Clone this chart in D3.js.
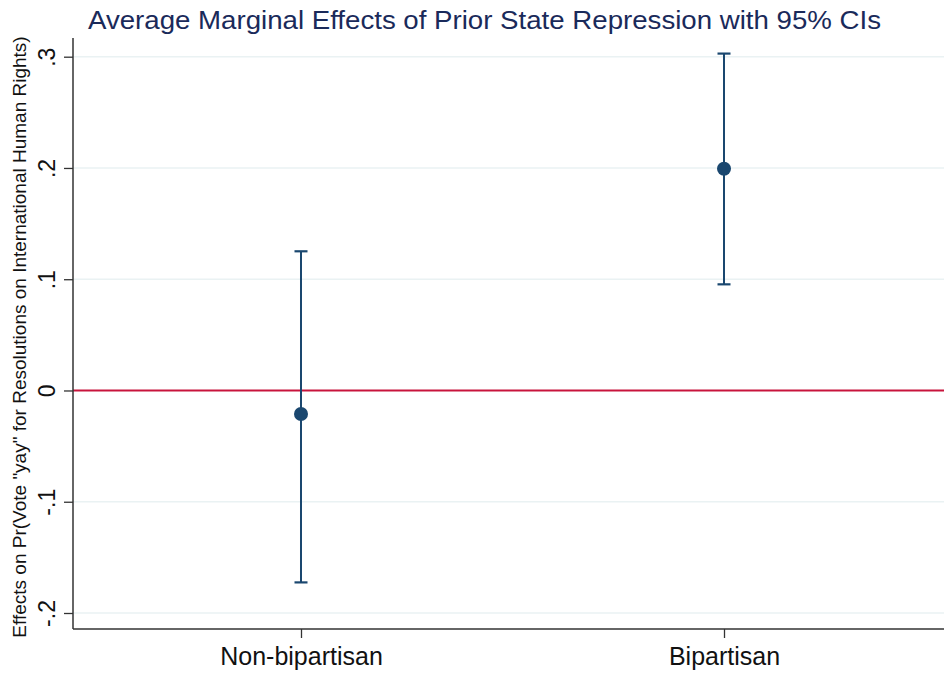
<!DOCTYPE html>
<html>
<head>
<meta charset="utf-8">
<script src="https://cdn.jsdelivr.net/npm/d3@7"></script>
<style>
  html, body { margin: 0; padding: 0; background: #fff; }
  svg { display: block; font-family: "Liberation Sans", Arial, Helvetica, sans-serif; }
</style>
</head>
<body>
<svg id="chart" width="944" height="673"></svg>
<script>
// Average marginal effects with 95% confidence intervals
const categories = ["Non-bipartisan", "Bipartisan"];
const estimates  = [-0.0212, 0.1993];
const lowerCI    = [-0.1725, 0.0954];
const upperCI    = [0.1251, 0.3028];
const yTicks     = [-0.2, -0.1, 0, 0.1, 0.2, 0.3];
const yTickLabels = ["-.2", "-.1", "0", ".1", ".2", ".3"];

const plot = { left: 73, right: 944, top: 38, bottom: 629 };
const navy = "#1a476f";

const svg = d3.select("#chart");

const y = d3.scaleLinear().domain([-0.2, 0.3]).range([613, 56.7]);
const x = d3.scalePoint().domain(categories).range([plot.left, 952]).padding(0.539);

// gridlines (zero is drawn as a reference line instead)
svg.append("g").selectAll("line")
  .data(yTicks.filter(d => d !== 0))
  .join("line")
  .attr("x1", plot.left).attr("x2", plot.right)
  .attr("y1", d => y(d)).attr("y2", d => y(d))
  .attr("stroke", "#eaf2f3").attr("stroke-width", 1.5);

// zero reference line
svg.append("line")
  .attr("x1", plot.left).attr("x2", plot.right)
  .attr("y1", y(0)).attr("y2", y(0))
  .attr("stroke", "#c8143c").attr("stroke-width", 2);

// y axis
const yAxis = d3.axisLeft(y).tickValues(yTicks)
  .tickFormat((d, i) => yTickLabels[i]).tickSize(9).tickSizeOuter(0);
const gy = svg.append("g").attr("transform", `translate(${plot.left},0)`).call(yAxis);
gy.select(".domain").remove();
gy.selectAll(".tick line").attr("stroke", "#333").attr("stroke-width", 1.3);
gy.selectAll(".tick text")
  .attr("x", null).attr("dy", null)
  .attr("transform", "translate(-18,0) rotate(-90)")
  .attr("text-anchor", "middle")
  .attr("font-size", 23)
  .attr("font-family", "Liberation Sans, Arial, sans-serif")
  .attr("fill", "#111");
svg.append("line")
  .attr("x1", plot.left).attr("x2", plot.left)
  .attr("y1", plot.top).attr("y2", plot.bottom)
  .attr("stroke", "#333").attr("stroke-width", 1.5);

// x axis
const xAxis = d3.axisBottom(x).tickSize(9).tickSizeOuter(0);
const gx = svg.append("g").attr("transform", `translate(0,${plot.bottom})`).call(xAxis);
gx.select(".domain").remove();
gx.selectAll(".tick line").attr("stroke", "#333").attr("stroke-width", 1.3);
gx.selectAll(".tick text")
  .attr("y", 36).attr("dy", null)
  .attr("font-size", 25)
  .attr("font-family", "Liberation Sans, Arial, sans-serif")
  .attr("fill", "#111");
svg.append("line")
  .attr("x1", plot.left).attr("x2", plot.right)
  .attr("y1", plot.bottom).attr("y2", plot.bottom)
  .attr("stroke", "#333").attr("stroke-width", 1.5);

// confidence intervals
const rows = categories.map((c, i) => ({ c, est: estimates[i], lo: lowerCI[i], hi: upperCI[i] }));
const bars = svg.append("g").selectAll("g").data(rows).join("g");
bars.append("line")
  .attr("x1", d => x(d.c)).attr("x2", d => x(d.c))
  .attr("y1", d => y(d.lo)).attr("y2", d => y(d.hi))
  .attr("stroke", navy).attr("stroke-width", 2);
["lo", "hi"].forEach(k => {
  bars.append("line")
    .attr("x1", d => x(d.c) - 6.5).attr("x2", d => x(d.c) + 6.5)
    .attr("y1", d => y(d[k])).attr("y2", d => y(d[k]))
    .attr("stroke", navy).attr("stroke-width", 2.2);
});
bars.append("circle")
  .attr("cx", d => x(d.c)).attr("cy", d => y(d.est))
  .attr("r", 7).attr("fill", navy);

// title
svg.append("text")
  .attr("x", 484.5).attr("y", 29)
  .attr("text-anchor", "middle")
  .attr("font-size", 26.5)
  .attr("textLength", 793).attr("lengthAdjust", "spacingAndGlyphs")
  .attr("fill", "#1a2a5a")
  .text("Average Marginal Effects of Prior State Repression with 95% CIs");

// y axis title
svg.append("text")
  .attr("transform", "translate(26,337) rotate(-90)")
  .attr("text-anchor", "middle")
  .attr("font-size", 19)
  .attr("fill", "#111")
  .text("Effects on Pr(Vote \"yay\" for Resolutions on International Human Rights)");
</script>
</body>
</html>
